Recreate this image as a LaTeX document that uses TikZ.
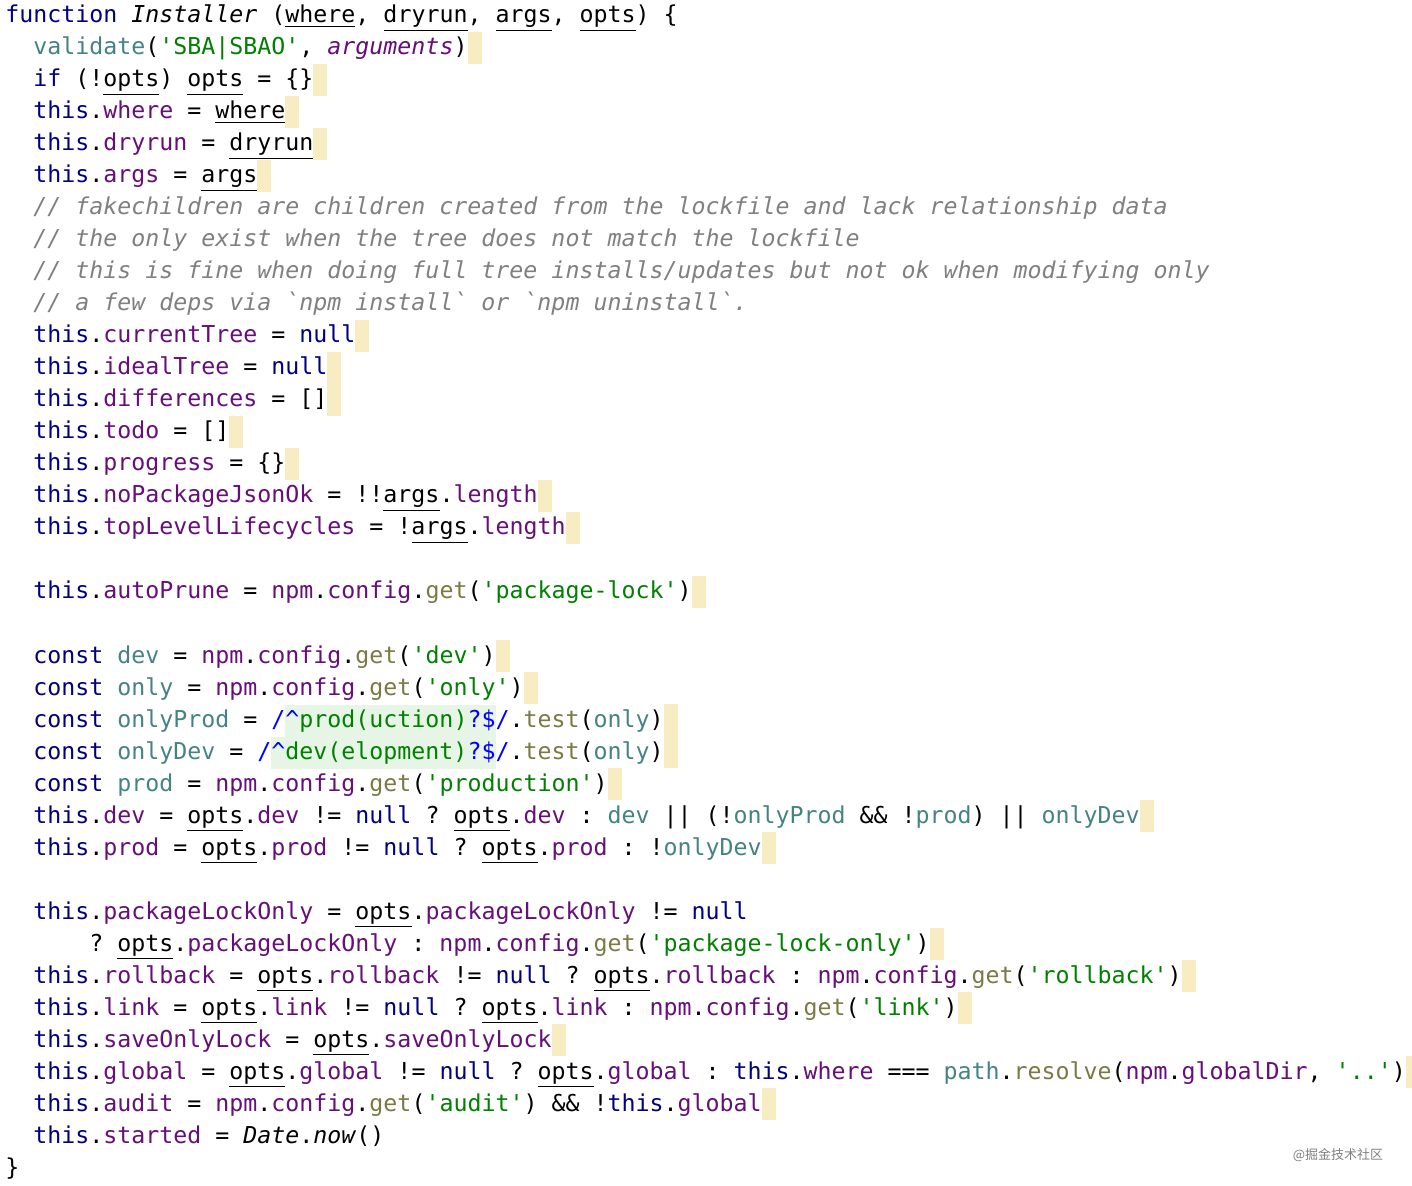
\documentclass[tikz,border=0pt]{standalone}
\usepackage{fontspec}
\setmonofont{DejaVu Sans Mono}
\newfontfamily\cjk{Noto Sans CJK SC}
\usepackage{xcolor}

\definecolor{kwc}{HTML}{000080}
\definecolor{prc}{HTML}{660E7A}
\definecolor{vrc}{HTML}{458383}
\definecolor{stc}{HTML}{008000}
\definecolor{fnc}{HTML}{7A7A43}
\definecolor{cmc}{HTML}{808080}
\definecolor{hlc}{HTML}{F8EDC2}
\definecolor{rxbg}{HTML}{E6F5E6}
\definecolor{rxc}{HTML}{0000FF}

\newcommand{\kw}[1]{\textcolor{kwc}{#1}}
\newcommand{\pr}[1]{\textcolor{prc}{#1}}
\newcommand{\vr}[1]{\textcolor{vrc}{#1}}
\newcommand{\st}[1]{\textcolor{stc}{#1}}
\newcommand{\fnm}[1]{\textcolor{fnc}{#1}}
\newcommand{\cmt}[1]{\textcolor{cmc}{\textit{#1}}}
\newcommand{\ul}[1]{\underline{#1}}
\newcommand{\hl}{{\color{hlc}\rule[-4.5pt]{7pt}{16pt}}}
\newcommand{\rx}[1]{{\setlength{\fboxsep}{0pt}\colorbox{rxbg}{\strut#1}}}
\newcommand{\cfg}{\pr{npm}.\pr{config}.\fnm{get}}

\tikzset{
  code/.style={anchor=base west, inner sep=0pt, font=\ttfamily\fontsize{11.63}{16}\selectfont},
  wmark/.style={anchor=center, inner sep=0pt, text=cmc, font=\cjk\fontsize{6.5}{8}\selectfont}
}

\begin{document}
\begin{tikzpicture}[x=0.5pt, y=-0.5pt]
  \useasboundingbox[fill=white] (0,0) rectangle (1412,1186);
  % header
  \node[code] (l1) at (5,23) {\kw{function} \textit{Installer} (\ul{where}, \ul{dryrun}, \ul{args}, \ul{opts}) \{};
  \node[code] (l2) at (33,55) {\vr{validate}(\st{'SBA|SBAO'}, \pr{\textit{arguments}})\hl};
  \node[code] (l3) at (33,87) {\kw{if} (!\ul{opts}) \ul{opts} = \{\}\hl};
  \node[code] (l4) at (33,119) {\kw{this}.\pr{where} = \ul{where}\hl};
  \node[code] (l5) at (33,151) {\kw{this}.\pr{dryrun} = \ul{dryrun}\hl};
  \node[code] (l6) at (33,183) {\kw{this}.\pr{args} = \ul{args}\hl};
  % comments
  \node[code] (l7) at (33,215) {\cmt{// fakechildren are children created from the lockfile and lack relationship data}};
  \node[code] (l8) at (33,247) {\cmt{// the only exist when the tree does not match the lockfile}};
  \node[code] (l9) at (33,279) {\cmt{// this is fine when doing full tree installs/updates but not ok when modifying only}};
  \node[code] (l10) at (33,311) {\cmt{// a few deps via `npm install` or `npm uninstall`.}};
  % state
  \node[code] (l11) at (33,343) {\kw{this}.\pr{currentTree} = \kw{null}\hl};
  \node[code] (l12) at (33,375) {\kw{this}.\pr{idealTree} = \kw{null}\hl};
  \node[code] (l13) at (33,407) {\kw{this}.\pr{differences} = []\hl};
  \node[code] (l14) at (33,439) {\kw{this}.\pr{todo} = []\hl};
  \node[code] (l15) at (33,471) {\kw{this}.\pr{progress} = \{\}\hl};
  \node[code] (l16) at (33,503) {\kw{this}.\pr{noPackageJsonOk} = !!\ul{args}.\pr{length}\hl};
  \node[code] (l17) at (33,535) {\kw{this}.\pr{topLevelLifecycles} = !\ul{args}.\pr{length}\hl};
  \node[code] (l19) at (33,599) {\kw{this}.\pr{autoPrune} = \cfg(\st{'package-lock'})\hl};
  % dev / prod
  \node[code] (l21) at (33,663) {\kw{const} \vr{dev} = \cfg(\st{'dev'})\hl};
  \node[code] (l22) at (33,695) {\kw{const} \vr{only} = \cfg(\st{'only'})\hl};
  \node[code] (l23) at (33,727) {\kw{const} \vr{onlyProd} = \textcolor{rxc}{/}\rx{\textcolor{rxc}{\textasciicircum}\st{prod(uction)}\textcolor{rxc}{?\$}}\textcolor{rxc}{/}.\fnm{test}(\vr{only})\hl};
  \node[code] (l24) at (33,759) {\kw{const} \vr{onlyDev} = \textcolor{rxc}{/}\rx{\textcolor{rxc}{\textasciicircum}\st{dev(elopment)}\textcolor{rxc}{?\$}}\textcolor{rxc}{/}.\fnm{test}(\vr{only})\hl};
  \node[code] (l25) at (33,791) {\kw{const} \vr{prod} = \cfg(\st{'production'})\hl};
  \node[code] (l26) at (33,823) {\kw{this}.\pr{dev} = \ul{opts}.\pr{dev} != \kw{null} ? \ul{opts}.\pr{dev} : \vr{dev} || (!\vr{onlyProd} \&\& !\vr{prod}) || \vr{onlyDev}\hl};
  \node[code] (l27) at (33,855) {\kw{this}.\pr{prod} = \ul{opts}.\pr{prod} != \kw{null} ? \ul{opts}.\pr{prod} : !\vr{onlyDev}\hl};
  % flags
  \node[code] (l29) at (33,919) {\kw{this}.\pr{packageLockOnly} = \ul{opts}.\pr{packageLockOnly} != \kw{null}};
  \node[code] (l30) at (89,951) {? \ul{opts}.\pr{packageLockOnly} : \cfg(\st{'package-lock-only'})\hl};
  \node[code] (l31) at (33,983) {\kw{this}.\pr{rollback} = \ul{opts}.\pr{rollback} != \kw{null} ? \ul{opts}.\pr{rollback} : \cfg(\st{'rollback'})\hl};
  \node[code] (l32) at (33,1015) {\kw{this}.\pr{link} = \ul{opts}.\pr{link} != \kw{null} ? \ul{opts}.\pr{link} : \cfg(\st{'link'})\hl};
  \node[code] (l33) at (33,1047) {\kw{this}.\pr{saveOnlyLock} = \ul{opts}.\pr{saveOnlyLock}\hl};
  \node[code] (l34) at (33,1079) {\kw{this}.\pr{global} = \ul{opts}.\pr{global} != \kw{null} ? \ul{opts}.\pr{global} : \kw{this}.\pr{where} === \vr{path}.\fnm{resolve}(\pr{npm}.\pr{globalDir}, \st{'..'})\hl};
  \node[code] (l35) at (33,1111) {\kw{this}.\pr{audit} = \cfg(\st{'audit'}) \&\& !\kw{this}.\pr{global}\hl};
  \node[code] (l36) at (33,1143) {\kw{this}.\pr{started} = \textit{Date}.\textit{now}()};
  \node[code] (l37) at (5,1175) {\}};
  % watermark
  \node[wmark] (wm) at (1338,1155) {@掘金技术社区};
\end{tikzpicture}
\end{document}
